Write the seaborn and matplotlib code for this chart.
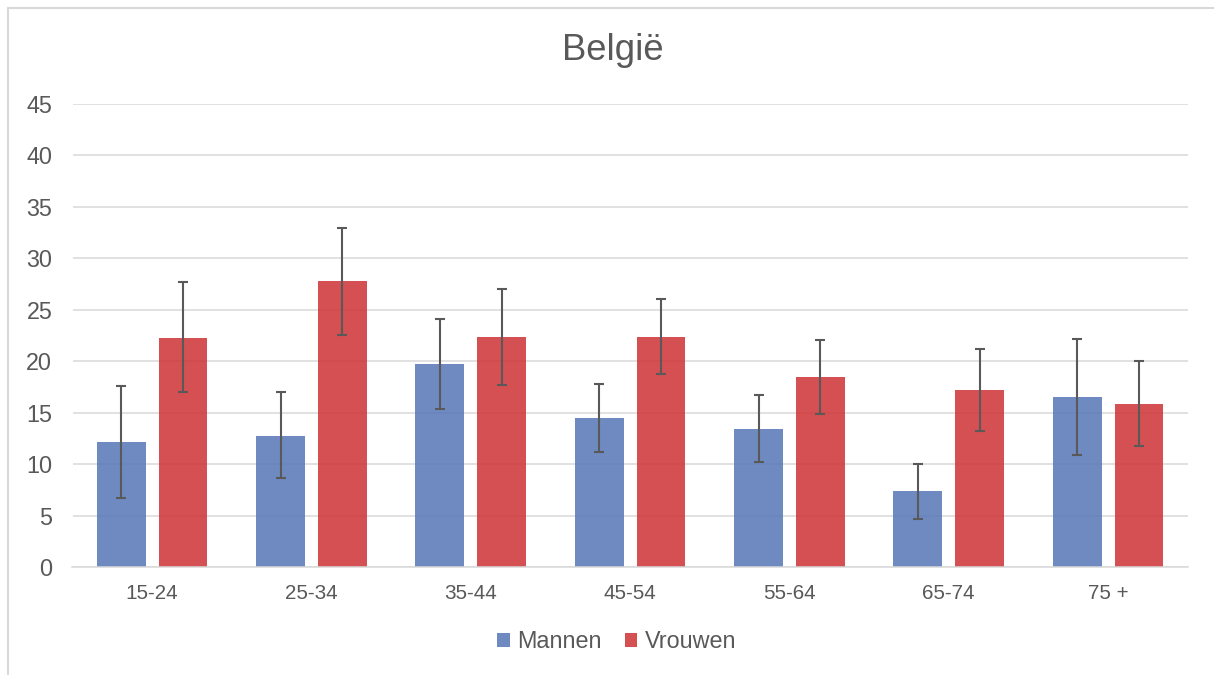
import numpy as np
import pandas as pd
import matplotlib
matplotlib.use("Agg")
import matplotlib.pyplot as plt
import seaborn as sns
from matplotlib.patches import Rectangle

# ---- data ----
categories = ["15-24", "25-34", "35-44", "45-54", "55-64", "65-74", "75 +"]
series = ["Mannen", "Vrouwen"]
mannen = [12.2, 12.75, 19.7, 14.5, 13.4, 7.4, 16.5]
mannen_lo = [6.7, 8.7, 15.4, 11.2, 10.2, 4.7, 10.9]
mannen_hi = [17.6, 17.0, 24.1, 17.8, 16.7, 10.0, 22.2]
vrouwen = [22.3, 27.8, 22.4, 22.4, 18.5, 17.2, 15.9]
vrouwen_lo = [17.0, 22.6, 17.7, 18.8, 14.9, 13.2, 11.8]
vrouwen_hi = [27.7, 33.0, 27.0, 26.1, 22.1, 21.2, 20.0]
yticks = [0, 5, 10, 15, 20, 25, 30, 35, 40, 45]
title = "België"

df = pd.DataFrame({
    "Leeftijd": categories * 2,
    "Geslacht": ["Mannen"] * len(categories) + ["Vrouwen"] * len(categories),
    "Waarde": mannen + vrouwen,
})

sns.set_theme(style="white")
plt.rcParams["font.family"] = ["Liberation Sans", "DejaVu Sans"]

text_col = "#595959"
grid_col = "#d9d9d9"
colors = {"Mannen": "#5a77b8", "Vrouwen": "#cf3639"}

W, H = 1214, 675
fig = plt.figure(figsize=(W / 100, H / 100), dpi=100)
fig.patch.set_facecolor("white")

# chart border
fig.patches.append(Rectangle((7.5 / W, -0.05), 1.2, 1 - 7.5 / H + 0.05,
                             transform=fig.transFigure, fill=False,
                             edgecolor=grid_col, linewidth=1.5))

left, right = 72.5 / W, 1187.7 / W
bottom, top = 1 - 567.3 / H, 1 - 104 / H
ax = fig.add_axes([left, bottom, right - left, top - bottom])

sns.barplot(data=df, x="Leeftijd", y="Waarde", hue="Geslacht",
            order=categories, hue_order=series, palette=colors,
            saturation=1, errorbar=None, width=0.776, gap=0.21, alpha=0.87,
            linewidth=0, ax=ax, zorder=2)

lows = {"Mannen": mannen_lo, "Vrouwen": vrouwen_lo}
highs = {"Mannen": mannen_hi, "Vrouwen": vrouwen_hi}
vals = {"Mannen": mannen, "Vrouwen": vrouwen}
for cont, s in zip(ax.containers, series):
    xs = [b.get_x() + b.get_width() / 2 for b in cont]
    v = np.array(vals[s])
    lo = v - np.array(lows[s])
    hi = np.array(highs[s]) - v
    ax.errorbar(xs, v, yerr=[lo, hi], fmt="none", ecolor=text_col,
                elinewidth=1.5, capsize=3.6, capthick=1.5, zorder=3)

ax.set_ylim(0, 45)
ax.set_xlim(-0.5, len(categories) - 0.5)
ax.set_yticks(yticks)
ax.set_yticklabels([str(t) for t in yticks])
ax.yaxis.grid(True, color=grid_col, linewidth=1.1, zorder=0)
ax.set_axisbelow(True)
for sp in ["left", "right", "top"]:
    ax.spines[sp].set_visible(False)
ax.spines["bottom"].set_color(grid_col)
ax.spines["bottom"].set_linewidth(1.1)
ax.tick_params(axis="y", length=0, pad=14.5, labelsize=16.8, labelcolor=text_col)
ax.tick_params(axis="x", length=0, pad=12, labelsize=14.9, labelcolor=text_col)
ax.set_xlabel("")
ax.set_ylabel("")

handles, labels = ax.get_legend_handles_labels()
if ax.get_legend() is not None:
    ax.get_legend().remove()
leg = fig.legend(handles, labels, loc="center", bbox_to_anchor=(0.5078, 1 - 642 / H),
                 ncol=2, frameon=False, fontsize=16.8, handlelength=0.55,
                 handleheight=0.55, handletextpad=0.3, columnspacing=1.0)
for t in leg.get_texts():
    t.set_color(text_col)

fig.text(613 / W, 1 - 50 / H, title, ha="center", va="center",
         fontsize=26.3, color=text_col)

fig.savefig("out.png", dpi=100)
